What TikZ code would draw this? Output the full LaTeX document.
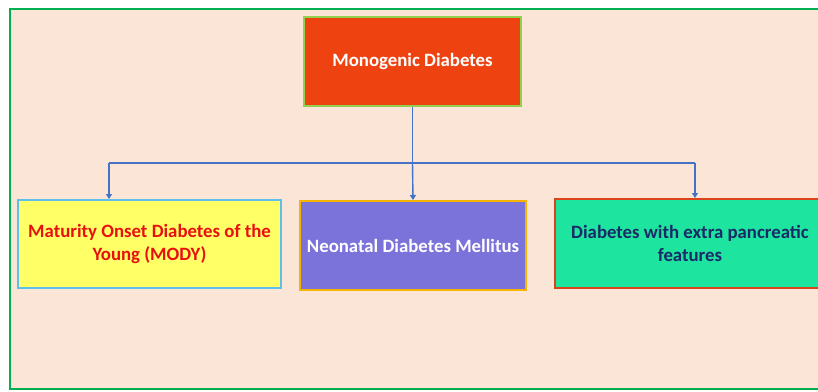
\documentclass[tikz,border=0pt]{standalone}
\usepackage{fontspec}
\setmainfont{Carlito}
\usetikzlibrary{positioning,arrows.meta}

\definecolor{pagebg}{HTML}{FBE5D6}
\definecolor{framegreen}{HTML}{00B050}
\definecolor{rootfill}{HTML}{EE4210}
\definecolor{rootedge}{HTML}{92D050}
\definecolor{modyfill}{HTML}{FFFF66}
\definecolor{modyedge}{HTML}{5BC0EB}
\definecolor{modytext}{HTML}{E81010}
\definecolor{ndmfill}{HTML}{7B72DA}
\definecolor{ndmedge}{HTML}{F4B400}
\definecolor{extrafill}{HTML}{1DE49E}
\definecolor{extraedge}{HTML}{D9441C}
\definecolor{extratext}{HTML}{1A2A68}
\definecolor{linkblue}{HTML}{4472C4}

\tikzset{
  box/.style={draw, line width=2pt, align=center, inner sep=0pt,
    font=\fontsize{18.8}{23}\selectfont\bfseries},
  link/.style={draw=linkblue, line width=1.4pt},
  linkarrow/.style={link, -{Triangle[width=6pt,length=5pt]}}
}

\begin{document}
\begin{tikzpicture}[x=1pt,y=-1pt]
  \useasboundingbox (0,0) rectangle (818,391);
  \clip (0,0) rectangle (818,391);
  % page background and frame
  \draw[framegreen, line width=2.4pt, fill=pagebg] (10,9) rectangle (840,389);
  % boxes
  \node[box, draw=rootedge, fill=rootfill, text=white,
        minimum width=217pt, minimum height=89pt] (root) at (412.5,61.5) {Monogenic Diabetes};
  \node[box, draw=modyedge, fill=modyfill, text=modytext,
        minimum width=263pt, minimum height=88pt] (mody) at (149.5,244) {Maturity Onset Diabetes of the\\Young (MODY)};
  \node[box, draw=ndmedge, fill=ndmfill, text=white,
        minimum width=226pt, minimum height=89pt] (ndm) at (413,245.5) {Neonatal Diabetes Mellitus};
  \node[box, draw=extraedge, fill=extrafill, text=extratext,
        minimum width=270pt, minimum height=89pt] (extra) at (690,243.5) {Diabetes with extra pancreatic\\features};
  % connectors
  \coordinate (split) at (root.south |- 0,163);
  \coordinate (busL) at (109,163);
  \coordinate (busR) at (695,163);
  \draw[link] (root.south) -- (split);
  \draw[link] (busL) -- (busR);
  \draw[linkarrow] (busL) -- (busL |- mody.north);
  \draw[linkarrow] (split) -- (ndm.north);
  \draw[linkarrow] (busR) -- (busR |- extra.north);
\end{tikzpicture}
\end{document}
